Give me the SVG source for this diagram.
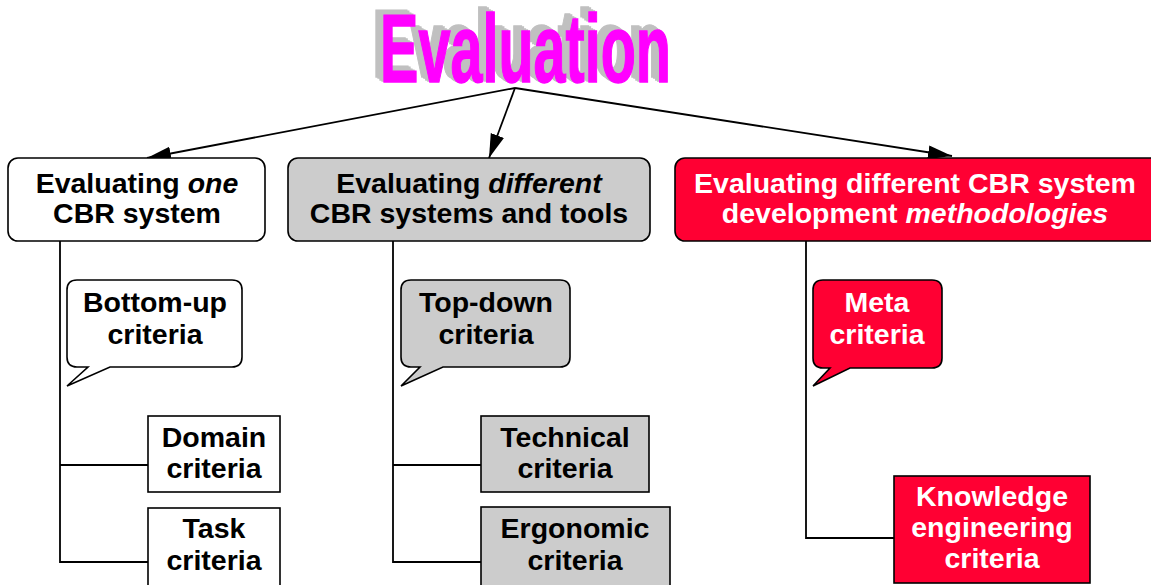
<svg xmlns="http://www.w3.org/2000/svg" width="1151" height="585" viewBox="0 0 1151 585">
  <style>
    .lbl { font-family: "Liberation Sans", Arial, sans-serif; font-weight: bold; font-size: 28.5px; text-anchor: middle; fill: #000; }
    .inv { fill: #fff; }
    .it { font-style: italic; }
    .box { stroke: #000; stroke-width: 1.6; }
    .white { fill: #fff; }
    .grey { fill: #cccccc; }
    .red { fill: #ff0033; }
    .wire { fill: none; stroke: #000; stroke-width: 1.8; }
    .title { font-family: "Liberation Sans", Arial, sans-serif; font-weight: bold; font-size: 96px; stroke-width: 1.5; }
  </style>
  <defs>
    <marker id="head" markerUnits="userSpaceOnUse" markerWidth="26" markerHeight="16" refX="24" refY="7" orient="auto">
      <path d="M0,0 L24,7 L0,14 Z" fill="#000"/>
    </marker>
    <text id="titleText" class="title" x="380" y="82" textLength="291" lengthAdjust="spacingAndGlyphs">Evaluation</text>
  </defs>

  <!-- Title with extruded grey shadow -->
  <g id="title">
    <use href="#titleText" x="-8" y="-5" fill="#c0c0c0" stroke="#c0c0c0"/>
    <use href="#titleText" x="-6" y="-4" fill="#c0c0c0" stroke="#c0c0c0"/>
    <use href="#titleText" x="-4" y="-2.5" fill="#c0c0c0" stroke="#c0c0c0"/>
    <use href="#titleText" x="-2" y="-1" fill="#c0c0c0" stroke="#c0c0c0"/>
    <use href="#titleText" fill="#ff00ff" stroke="#ff00ff"/>
  </g>

  <!-- Connectors -->
  <g id="connectors">
    <line class="wire" x1="515" y1="88" x2="147" y2="158" marker-end="url(#head)"/>
    <line class="wire" x1="515" y1="88" x2="489" y2="158" marker-end="url(#head)"/>
    <line class="wire" x1="515" y1="88" x2="952" y2="156" marker-end="url(#head)"/>
    <polyline class="wire" points="60,241 60,562 148,562"/>
    <line class="wire" x1="60" y1="465" x2="148" y2="465"/>
    <polyline class="wire" points="393,241 393,562 481,562"/>
    <line class="wire" x1="393" y1="465" x2="481" y2="465"/>
    <polyline class="wire" points="806,241 806,538 894,538"/>
  </g>

  <!-- Level 1 -->
  <g id="one-system">
    <rect class="box white" x="8" y="158" width="257" height="83" rx="10"/>
    <text class="lbl" x="137" y="193">Evaluating <tspan class="it">one</tspan></text>
    <text class="lbl" x="137" y="223">CBR system</text>
  </g>
  <g id="different-systems">
    <rect class="box grey" x="288" y="158" width="362" height="83" rx="10"/>
    <text class="lbl" x="469" y="193">Evaluating <tspan class="it">different</tspan></text>
    <text class="lbl" x="469" y="223">CBR systems and tools</text>
  </g>
  <g id="methodologies">
    <rect class="box red" x="675" y="158" width="490" height="83" rx="10"/>
    <text class="lbl inv" x="915" y="193">Evaluating different CBR system</text>
    <text class="lbl inv" x="915" y="223">development <tspan class="it">methodologies</tspan></text>
  </g>

  <!-- Callouts -->
  <g id="bottom-up">
    <path class="box white" d="M77,280 H232 Q242,280 242,290 V357 Q242,367 232,367 H110 L67,386 L88,367 H77 Q67,367 67,357 V290 Q67,280 77,280 Z"/>
    <text class="lbl" x="155" y="312">Bottom-up</text>
    <text class="lbl" x="155" y="344">criteria</text>
  </g>
  <g id="top-down">
    <path class="box grey" d="M411,280 H560 Q570,280 570,290 V357 Q570,367 560,367 H443 L401,386 L420,367 H411 Q401,367 401,357 V290 Q401,280 411,280 Z"/>
    <text class="lbl" x="486" y="312">Top-down</text>
    <text class="lbl" x="486" y="344">criteria</text>
  </g>
  <g id="meta">
    <path class="box red" d="M823,280 H932 Q942,280 942,290 V358 Q942,368 932,368 H850 L813,386 L830,368 H823 Q813,368 813,358 V290 Q813,280 823,280 Z"/>
    <text class="lbl inv" x="877" y="312">Meta</text>
    <text class="lbl inv" x="877" y="344">criteria</text>
  </g>

  <!-- Level 2 -->
  <g id="domain">
    <rect class="box white" x="148" y="416" width="132" height="76"/>
    <text class="lbl" x="214" y="447">Domain</text>
    <text class="lbl" x="214" y="478">criteria</text>
  </g>
  <g id="task">
    <rect class="box white" x="148" y="508" width="132" height="90"/>
    <text class="lbl" x="214" y="538">Task</text>
    <text class="lbl" x="214" y="570">criteria</text>
  </g>
  <g id="technical">
    <rect class="box grey" x="481" y="416" width="168" height="76"/>
    <text class="lbl" x="565" y="447">Technical</text>
    <text class="lbl" x="565" y="478">criteria</text>
  </g>
  <g id="ergonomic">
    <rect class="box grey" x="481" y="507" width="189" height="90"/>
    <text class="lbl" x="575" y="538">Ergonomic</text>
    <text class="lbl" x="575" y="570">criteria</text>
  </g>
  <g id="knowledge-engineering">
    <rect class="box red" x="894" y="476" width="196" height="107"/>
    <text class="lbl inv" x="992" y="506">Knowledge</text>
    <text class="lbl inv" x="992" y="537">engineering</text>
    <text class="lbl inv" x="992" y="568">criteria</text>
  </g>
</svg>
